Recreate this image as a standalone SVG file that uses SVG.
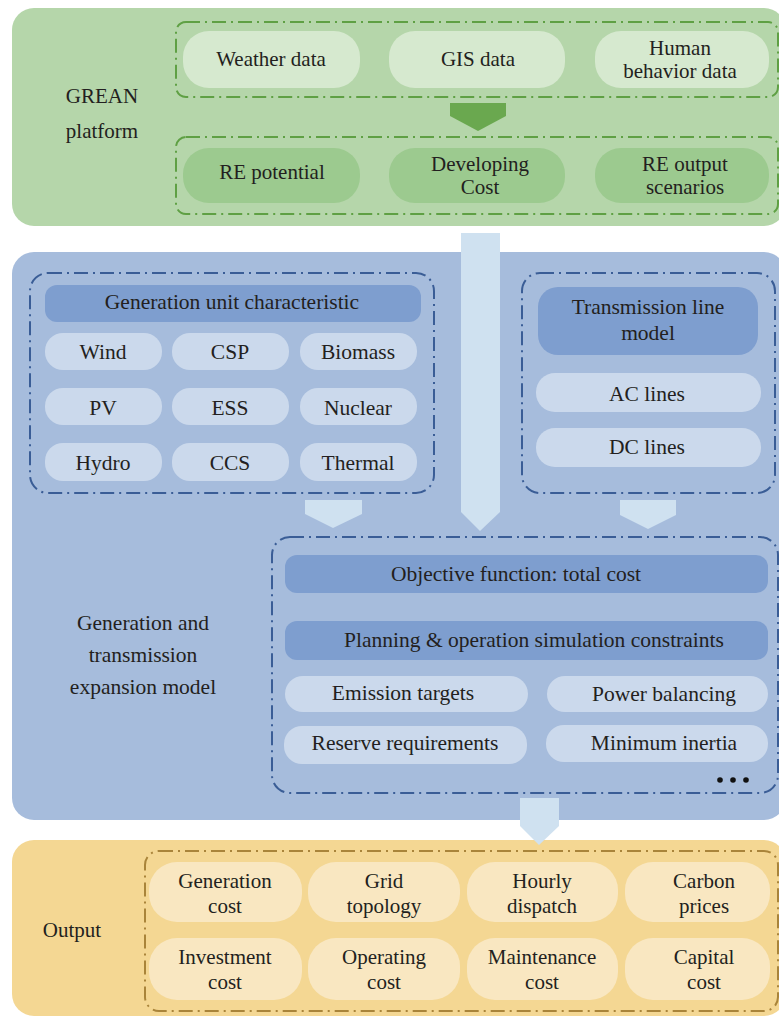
<svg xmlns="http://www.w3.org/2000/svg" width="779" height="1019" viewBox="0 0 779 1019">
<style>
text{font-family:"Liberation Serif","Times New Roman",serif;font-size:21px;fill:#231f20;text-anchor:middle}
.b text{font-size:21.5px}
.dg{fill:none;stroke:#5fa044;stroke-width:2;stroke-dasharray:14 5 2 5}
.db{fill:none;stroke:#3a5d96;stroke-width:2;stroke-dasharray:14 5 2 5}
.do{fill:none;stroke:#a9843a;stroke-width:2;stroke-dasharray:14 5 2 5}
.gl{fill:#d6e9cf}
.gd{fill:#9cca8f}
.bh{fill:#7e9ecf}
.bl{fill:#cbd9ec}
.ol{fill:#f9e7c1}
.ar{fill:#cfe1f0}
</style>
<rect id="grean-panel" x="12" y="8" width="774" height="218" rx="22" fill="#b5d6aa"/>
<rect id="model-panel" x="12" y="252" width="774" height="568" rx="22" fill="#a6bcdc"/>
<rect id="output-panel" x="12" y="840" width="774" height="176" rx="22" fill="#f4d793"/>

<g id="grean-label"><text x="102" y="103">GREAN</text><text x="102" y="138">platform</text></g>
<rect class="dg" x="176" y="22" width="602" height="75" rx="10"/>
<g id="weather"><rect class="gl" x="183" y="31" width="177" height="57" rx="26"/><text x="271" y="66">Weather data</text></g>
<g id="gis"><rect class="gl" x="389" y="31" width="176" height="57" rx="26"/><text x="478" y="66">GIS data</text></g>
<g id="human"><rect class="gl" x="595" y="31" width="174" height="57" rx="26"/><text x="680" y="55">Human</text><text x="680" y="78">behavior data</text></g>
<rect class="dg" x="176" y="137" width="602" height="77" rx="10"/>
<g id="re-potential"><rect class="gd" x="183" y="148" width="177" height="55" rx="26"/><text x="272" y="179">RE potential</text></g>
<g id="developing"><rect class="gd" x="389" y="148" width="176" height="55" rx="26"/><text x="480" y="171">Developing</text><text x="480" y="194">Cost</text></g>
<g id="re-output"><rect class="gd" x="595" y="148" width="174" height="55" rx="26"/><text x="685" y="171">RE output</text><text x="685" y="194">scenarios</text></g>

<g id="model-label" class="b"><text x="143" y="630">Generation and</text><text x="143" y="662">transmission</text><text x="143" y="694">expansion model</text></g>

<g id="gen-unit" class="b">
<rect class="db" x="30" y="273" width="404" height="220" rx="18"/>
<rect class="bh" x="45" y="285" width="376" height="37" rx="12"/><text x="232" y="309">Generation unit characteristic</text>
<rect class="bl" x="45" y="333" width="117" height="37" rx="18"/><text x="103" y="359">Wind</text>
<rect class="bl" x="172" y="333" width="117" height="37" rx="18"/><text x="230" y="359">CSP</text>
<rect class="bl" x="300" y="333" width="117" height="37" rx="18"/><text x="358" y="359">Biomass</text>
<rect class="bl" x="45" y="388" width="117" height="37" rx="18"/><text x="103" y="415">PV</text>
<rect class="bl" x="172" y="388" width="117" height="37" rx="18"/><text x="230" y="415">ESS</text>
<rect class="bl" x="300" y="388" width="117" height="37" rx="18"/><text x="358" y="415">Nuclear</text>
<rect class="bl" x="45" y="443" width="117" height="38" rx="18"/><text x="103" y="470">Hydro</text>
<rect class="bl" x="172" y="443" width="117" height="38" rx="18"/><text x="230" y="470">CCS</text>
<rect class="bl" x="300" y="443" width="117" height="38" rx="18"/><text x="358" y="470">Thermal</text>
</g>

<g id="transmission" class="b">
<rect class="db" x="522" y="273" width="253" height="220" rx="18"/>
<rect class="bh" x="538" y="287" width="220" height="68" rx="20"/><text x="648" y="314">Transmission line</text><text x="648" y="340">model</text>
<rect class="bl" x="536" y="373" width="225" height="39" rx="19"/><text x="647" y="401">AC lines</text>
<rect class="bl" x="536" y="428" width="225" height="39" rx="19"/><text x="647" y="454">DC lines</text>
</g>

<g id="optimization" class="b">
<rect class="db" x="272" y="537" width="506" height="256" rx="18"/>
<rect class="bh" x="285" y="555" width="483" height="38" rx="12"/><text x="516" y="581">Objective function: total cost</text>
<rect class="bh" x="285" y="621" width="483" height="39" rx="12"/><text x="534" y="647">Planning &amp; operation simulation constraints</text>
<rect class="bl" x="285" y="676" width="243" height="36" rx="18"/><text x="403" y="700">Emission targets</text>
<rect class="bl" x="547" y="676" width="221" height="36" rx="18"/><text x="664" y="701">Power balancing</text>
<rect class="bl" x="284" y="726" width="243" height="38" rx="18"/><text x="405" y="750">Reserve requirements</text>
<rect class="bl" x="546" y="725" width="222" height="37" rx="18"/><text x="664" y="750">Minimum inertia</text>
<circle cx="720" cy="780" r="2.8" fill="#111"/><circle cx="733" cy="780" r="2.8" fill="#111"/><circle cx="746" cy="780" r="2.8" fill="#111"/>
</g>

<g id="output-label"><text x="72" y="937">Output</text></g>
<g id="outputs">
<rect class="do" x="145" y="851" width="633" height="160" rx="14"/>
<rect class="ol" x="149" y="862" width="153" height="60" rx="28"/><text x="225" y="888">Generation</text><text x="225" y="913">cost</text>
<rect class="ol" x="308" y="862" width="152" height="60" rx="28"/><text x="384" y="888">Grid</text><text x="384" y="913">topology</text>
<rect class="ol" x="467" y="862" width="151" height="60" rx="28"/><text x="542" y="888">Hourly</text><text x="542" y="913">dispatch</text>
<rect class="ol" x="625" y="862" width="145" height="60" rx="28"/><text x="704" y="888">Carbon</text><text x="704" y="913">prices</text>
<rect class="ol" x="149" y="938" width="153" height="62" rx="28"/><text x="225" y="964">Investment</text><text x="225" y="989">cost</text>
<rect class="ol" x="308" y="938" width="152" height="62" rx="28"/><text x="384" y="964">Operating</text><text x="384" y="989">cost</text>
<rect class="ol" x="467" y="938" width="151" height="62" rx="28"/><text x="542" y="964">Maintenance</text><text x="542" y="989">cost</text>
<rect class="ol" x="625" y="938" width="145" height="62" rx="28"/><text x="704" y="964">Capital</text><text x="704" y="989">cost</text>
</g>

<g id="connectors">
<polygon points="450,103 506,103 506,116 478,131 450,116" fill="#6aa84f"/>
<polygon class="ar" points="461,233 500,233 500,512 480,531 461,512"/>
<polygon class="ar" points="305,500 362,500 362,514 333,528 305,514"/>
<polygon class="ar" points="620,500 676,500 676,515 648,529 620,515"/>
<polygon class="ar" points="520,798 559,798 559,826 539,845 520,826"/>
</g>
</svg>
